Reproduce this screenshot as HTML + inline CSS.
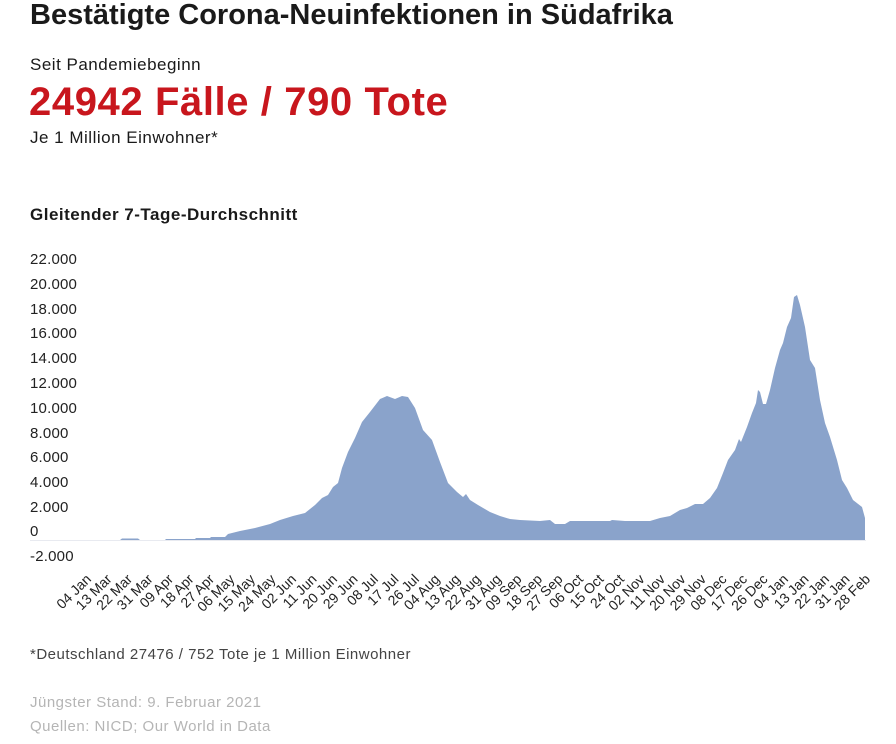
<!DOCTYPE html>
<html><head><meta charset="utf-8"><style>
body{margin:0;width:896px;height:744px;background:#fff;font-family:"Liberation Sans",sans-serif;color:#1a1a1a;position:relative;overflow:hidden}
.a{position:absolute;white-space:nowrap}
</style></head><body>
<div class="a" style="left:30px;top:-1px;font-size:29px;font-weight:bold;color:#1a1a1a;letter-spacing:0px">Bestätigte Corona-Neuinfektionen in Südafrika</div>
<div class="a" style="left:30px;top:55px;font-size:17px;letter-spacing:0.5px">Seit Pandemiebeginn</div>
<div class="a" style="left:29px;top:80px;font-size:40px;font-weight:bold;color:#c8161d;letter-spacing:0.6px">24942 Fälle / 790 Tote</div>
<div class="a" style="left:30px;top:128px;font-size:17px;letter-spacing:0.5px">Je 1 Million Einwohner*</div>
<div class="a" style="left:30px;top:205px;font-size:17px;font-weight:bold;letter-spacing:0.5px">Gleitender 7-Tage-Durchschnitt</div>
<svg class="a" style="left:0;top:0" width="896" height="744">
<g font-family="Liberation Sans, sans-serif" font-size="15" fill="#222" letter-spacing="0.2">
<text x="30" y="264">22.000</text><text x="30" y="289">20.000</text><text x="30" y="314">18.000</text><text x="30" y="338">16.000</text><text x="30" y="363">14.000</text><text x="30" y="388">12.000</text><text x="30" y="413">10.000</text><text x="30" y="438">8.000</text><text x="30" y="462">6.000</text><text x="30" y="487">4.000</text><text x="30" y="512">2.000</text><text x="30" y="536">0</text><text x="30" y="561">-2.000</text>
</g>
<line x1="30" y1="540.5" x2="866" y2="540.5" stroke="#e8eaf0" stroke-width="1"/>
<path fill="#8aa3cb" d="M90,540 L120,540 L122,538.5 L138,538.5 L140,540 L165,540 L166,539 L195,539 L196,538 L210,538 L211,537 L225,537 L228,534 L240,531 L255,528 L270,524 L280,520 L293,516 L305,513 L315,505 L322,498 L328,495 L333,487 L338,483 L342,468 L348,452 L355,438 L362,422 L370,412 L380,399 L387,396 L395,399 L402,396 L408,397 L415,408 L423,430 L432,440 L440,462 L448,483 L457,492 L463,497 L466,494 L470,500 L478,505 L490,512 L500,516 L510,519 L520,520 L540,521 L550,520 L555,524 L565,524 L570,521 L610,521 L612,520 L625,521 L650,521 L660,518 L670,516 L680,510 L687,508 L695,504 L703,504 L710,498 L717,488 L723,473 L728,460 L735,450 L739,439 L741,442 L747,427 L752,413 L756,403 L758,390 L760,392 L763,404 L766,404 L770,390 L775,368 L780,350 L783,343 L787,327 L791,318 L794,297 L797,295 L800,305 L805,327 L810,360 L815,368 L820,400 L825,423 L830,437 L837,460 L842,480 L847,488 L853,500 L862,507 L865,518 L865,540 Z"/>
<g font-family="Liberation Sans, sans-serif" font-size="14" fill="#222" text-anchor="end">
<text transform="translate(92,580) rotate(-45)">04 Jan</text>
<text transform="translate(112.5,580) rotate(-45)">13 Mar</text>
<text transform="translate(133,580) rotate(-45)">22 Mar</text>
<text transform="translate(153.5,580) rotate(-45)">31 Mar</text>
<text transform="translate(174,580) rotate(-45)">09 Apr</text>
<text transform="translate(194.5,580) rotate(-45)">18 Apr</text>
<text transform="translate(215,580) rotate(-45)">27 Apr</text>
<text transform="translate(235.5,580) rotate(-45)">06 May</text>
<text transform="translate(256,580) rotate(-45)">15 May</text>
<text transform="translate(276.5,580) rotate(-45)">24 May</text>
<text transform="translate(297,580) rotate(-45)">02 Jun</text>
<text transform="translate(317.5,580) rotate(-45)">11 Jun</text>
<text transform="translate(338,580) rotate(-45)">20 Jun</text>
<text transform="translate(358.5,580) rotate(-45)">29 Jun</text>
<text transform="translate(379,580) rotate(-45)">08 Jul</text>
<text transform="translate(399.5,580) rotate(-45)">17 Jul</text>
<text transform="translate(420,580) rotate(-45)">26 Jul</text>
<text transform="translate(440.5,580) rotate(-45)">04 Aug</text>
<text transform="translate(461,580) rotate(-45)">13 Aug</text>
<text transform="translate(481.5,580) rotate(-45)">22 Aug</text>
<text transform="translate(502,580) rotate(-45)">31 Aug</text>
<text transform="translate(522.5,580) rotate(-45)">09 Sep</text>
<text transform="translate(543,580) rotate(-45)">18 Sep</text>
<text transform="translate(563.5,580) rotate(-45)">27 Sep</text>
<text transform="translate(584,580) rotate(-45)">06 Oct</text>
<text transform="translate(604.5,580) rotate(-45)">15 Oct</text>
<text transform="translate(625,580) rotate(-45)">24 Oct</text>
<text transform="translate(645.5,580) rotate(-45)">02 Nov</text>
<text transform="translate(666,580) rotate(-45)">11 Nov</text>
<text transform="translate(686.5,580) rotate(-45)">20 Nov</text>
<text transform="translate(707,580) rotate(-45)">29 Nov</text>
<text transform="translate(727.5,580) rotate(-45)">08 Dec</text>
<text transform="translate(748,580) rotate(-45)">17 Dec</text>
<text transform="translate(768.5,580) rotate(-45)">26 Dec</text>
<text transform="translate(789,580) rotate(-45)">04 Jan</text>
<text transform="translate(809.5,580) rotate(-45)">13 Jan</text>
<text transform="translate(830,580) rotate(-45)">22 Jan</text>
<text transform="translate(850.5,580) rotate(-45)">31 Jan</text>
<text transform="translate(871,580) rotate(-45)">28 Feb</text>
</g>
</svg>
<div class="a" style="left:30px;top:646px;font-size:15px;color:#444;letter-spacing:0.5px">*Deutschland 27476 / 752 Tote je 1 Million Einwohner</div>
<div class="a" style="left:30px;top:694px;font-size:15px;color:#b5b5b5;letter-spacing:0.5px">Jüngster Stand: 9. Februar 2021</div>
<div class="a" style="left:30px;top:718px;font-size:15px;color:#b5b5b5;letter-spacing:0.5px">Quellen: NICD; Our World in Data</div>
</body></html>
